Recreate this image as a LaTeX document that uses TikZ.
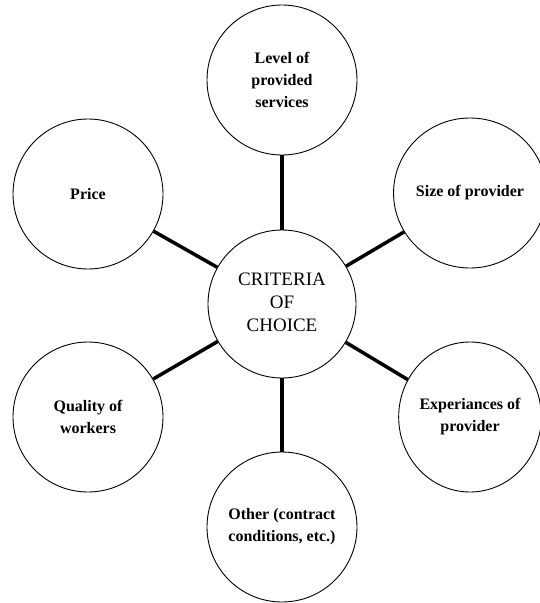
\documentclass[tikz,border=0pt]{standalone}
\usepackage{fontspec}
\setmainfont{Liberation Serif}
\usetikzlibrary{shapes.geometric}
\begin{document}
\begin{tikzpicture}[x=1pt,y=-1pt,
  bub/.style={draw, line width=0.9pt, circle, minimum size=150pt, inner sep=0pt, align=center,
    font=\fontsize{16}{22}\selectfont\bfseries},
  ebub/.style={bub, ellipse, minimum width=136pt, minimum height=150pt},
  hub/.style={draw, line width=0.9pt, circle, minimum size=148pt, inner sep=0pt, align=center,
    font=\fontsize{19}{23}\selectfont},
  link/.style={line width=3.5pt}]
\useasboundingbox (0,0) rectangle (539,603);
\node[hub] (c) at (282,304) {\raisebox{-6pt}{\begin{tabular}{@{}c@{}}CRITERIA\\OF\\CHOICE\end{tabular}}};
\node[bub] (lev) at (282,80) {Level of\\provided\\services};
\node[bub] (pri) at (88,194) {Price};
\node[ebub] (siz) at (470,193) {Size of provider};
\node[bub] (qua) at (88,417) {Quality of\\workers};
\node[ebub] (exp) at (470,417) {Experiances of\\provider};
\node[bub] (oth) at (282,527) {Other (contract\\conditions, etc.)};
\draw[link] (c) -- (lev);
\draw[link] (c) -- (pri);
\draw[link] (c) -- (siz);
\draw[link] (c) -- (qua);
\draw[link] (c) -- (exp);
\draw[link] (c) -- (oth);
\end{tikzpicture}
\end{document}
